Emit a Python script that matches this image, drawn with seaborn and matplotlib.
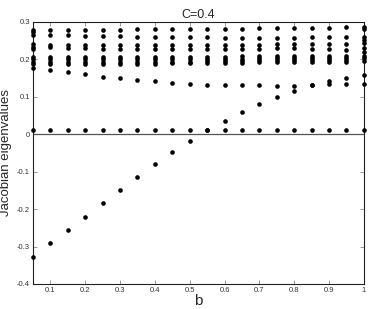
import numpy as np
import pandas as pd
import seaborn as sns
from matplotlib import pyplot as plt

# parameter values along x
b = [0.05, 0.1, 0.15, 0.2, 0.25, 0.3, 0.35, 0.4, 0.45, 0.5,
     0.55, 0.6, 0.65, 0.7, 0.75, 0.8, 0.85, 0.9, 0.95, 1.0]

# upper cluster of eigenvalues (8 rows)
r1 = [0.278, 0.278, 0.279, 0.279, 0.279, 0.279, 0.280, 0.280, 0.280, 0.281,
      0.281, 0.282, 0.282, 0.283, 0.283, 0.284, 0.285, 0.285, 0.286, 0.287]
r2 = [0.266, 0.265, 0.264, 0.263, 0.262, 0.262, 0.261, 0.261, 0.260, 0.260,
      0.259, 0.258, 0.258, 0.258, 0.258, 0.258, 0.259, 0.259, 0.260, 0.261]
r3 = [0.240, 0.239, 0.238, 0.238, 0.238, 0.238, 0.238, 0.238, 0.238, 0.238,
      0.238, 0.238, 0.239, 0.239, 0.240, 0.240, 0.241, 0.241, 0.242, 0.243]
r4 = [0.233, 0.232, 0.231, 0.230, 0.229, 0.228, 0.228, 0.227, 0.227, 0.228,
      0.229, 0.229, 0.229, 0.229, 0.230, 0.230, 0.229, 0.228, 0.224, 0.230]
r5 = [0.206, 0.206, 0.206, 0.206, 0.206, 0.206, 0.207, 0.207, 0.207, 0.207,
      0.207, 0.207, 0.208, 0.208, 0.209, 0.209, 0.210, 0.210, 0.209, 0.220]
r6 = [0.200, 0.200, 0.200, 0.200, 0.200, 0.200, 0.200, 0.200, 0.200, 0.200,
      0.201, 0.201, 0.202, 0.203, 0.203, 0.204, 0.204, 0.204, 0.203, 0.210]
r7 = [0.193, 0.194, 0.194, 0.194, 0.193, 0.193, 0.193, 0.193, 0.194, 0.194,
      0.195, 0.196, 0.196, 0.197, 0.198, 0.198, 0.198, 0.198, 0.197, 0.203]
r8 = [0.188, 0.188, 0.188, 0.188, 0.188, 0.188, 0.188, 0.188, 0.189, 0.189,
      0.190, 0.191, 0.191, 0.192, 0.192, 0.192, 0.192, 0.192, 0.192, 0.195]

# decreasing branch and rising branch
branch_dec = [0.176, 0.172, 0.167, 0.160, 0.154, 0.149, 0.144, 0.141, 0.137, 0.134,
              0.132, 0.132, 0.131, 0.131, 0.130, 0.130, 0.131, 0.134, 0.134, 0.135]
branch_up = [-0.327, -0.291, -0.256, -0.220, -0.185, -0.149, -0.114, -0.079, -0.048, -0.017,
             0.012, 0.036, 0.060, 0.082, 0.100, 0.116, 0.131, 0.142, 0.151, 0.159]
# eigenvalue close to zero
near_zero = [0.011, 0.011, 0.011, 0.011, 0.011, 0.011, 0.011, 0.011, 0.011, 0.011,
             0.011, 0.011, 0.011, 0.011, 0.011, 0.011, 0.011, 0.011, 0.011, 0.011]

# a few extra points at the ends
extra_b = [0.05, 0.05, 1.0, 1.0]
extra_val = [0.272, 0.227, 0.281, 0.253]

xticks = [0.1, 0.2, 0.3, 0.4, 0.5, 0.6, 0.7, 0.8, 0.9, 1.0]
xticklabels = ["0.1", "0.2", "0.3", "0.4", "0.5", "0.6", "0.7", "0.8", "0.9", "1"]
yticks = [-0.4, -0.3, -0.2, -0.1, 0, 0.1, 0.2, 0.3]
yticklabels = ["-0.4", "-0.3", "-0.2", "-0.1", "0", "0.1", "0.2", "0.3"]

rows = [r1, r2, r3, r4, r5, r6, r7, r8, branch_dec, branch_up, near_zero]
df = pd.concat([pd.DataFrame({"b": b, "eig": r}) for r in rows] +
               [pd.DataFrame({"b": extra_b, "eig": extra_val})], ignore_index=True)

sns.set_style("white")
plt.rcParams["font.family"] = ["Liberation Sans", "DejaVu Sans"]

fig = plt.figure(figsize=(3.74, 3.09), dpi=100)
ax = fig.add_axes([0.088, 0.081, 0.885, 0.848])

ax.axhline(0, color="#555555", linewidth=0.9, zorder=1)
sns.scatterplot(data=df, x="b", y="eig", ax=ax, color="black", s=11,
                linewidth=0, clip_on=False, zorder=3)

ax.set_xlim(0.05, 1.0)
ax.set_ylim(-0.4, 0.3)
ax.set_xticks(xticks)
ax.set_xticklabels(xticklabels)
ax.set_yticks(yticks)
ax.set_yticklabels(yticklabels)
ax.tick_params(direction="in", length=3, width=0.6, color="#888888",
               labelsize=5.5, labelcolor="#333333", top=True, right=True,
               left=True, bottom=True, pad=2)
for sp in ax.spines.values():
    sp.set_color("#222222")
    sp.set_linewidth(0.8)

ax.set_title("C=0.4", fontsize=9, pad=3)
ax.set_xlabel("b", fontsize=11, labelpad=0)
ax.set_ylabel("Jacobian eigenvalues", fontsize=9.5)
ax.yaxis.set_label_coords(-0.062, 0.5)

fig.savefig("out.png", dpi=100)
